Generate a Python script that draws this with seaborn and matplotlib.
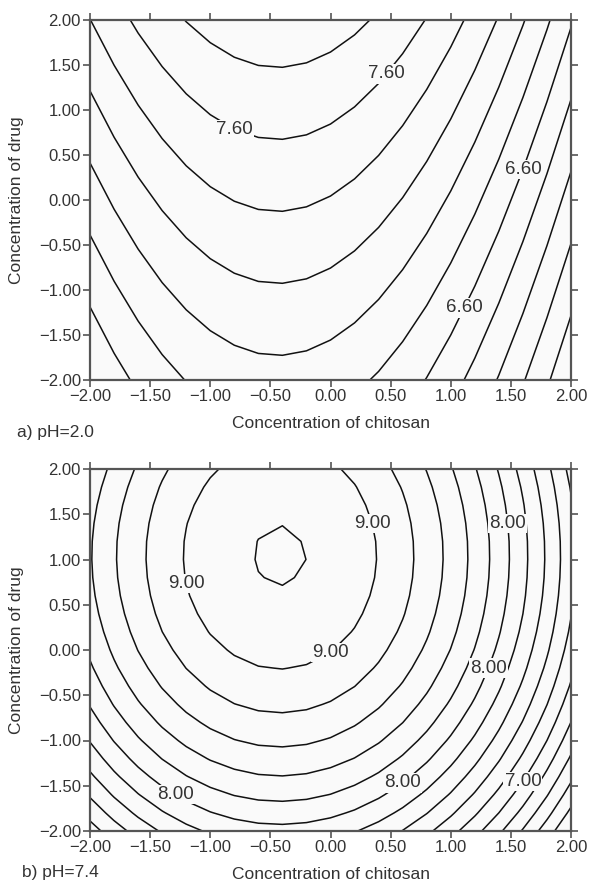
import numpy as np
import matplotlib
matplotlib.use("Agg")
import matplotlib.pyplot as plt
import seaborn as sns

# Quadratic response-surface models in coded units:
# z = b0 + b1*x + b2*y + b11*x^2 + b22*y^2 + b12*x*y
# x = concentration of chitosan, y = concentration of drug
coef_ph20 = [7.389, -0.194, 0.250, -0.220, 0.000, 0.000]
coef_ph74 = [9.008, -0.280, 0.287, -0.333, -0.138, 0.000]

# Coded design range and evaluation step of the fitted surface
coded_min, coded_max, coded_step = -2.0, 2.0, 0.2
tick_values = [-2.0, -1.5, -1.0, -0.5, 0.0, 0.5, 1.0, 1.5, 2.0]

# Contour levels (step 0.2)
levels_ph20 = [5.6, 5.8, 6.0, 6.2, 6.4, 6.6, 6.8, 7.0, 7.2, 7.4, 7.6, 7.8]
levels_ph74 = [6.0, 6.2, 6.4, 6.6, 6.8, 7.0, 7.2, 7.4, 7.6, 7.8, 8.0,
               8.2, 8.4, 8.6, 8.8, 9.0, 9.2]

# Which levels carry a label, and near which points
labels_ph20 = {7.6: [(-0.73, 0.70), (0.53, 1.49)],
               6.6: [(1.62, 0.30), (1.11, -1.31)]}
labels_ph74 = {9.0: [(-1.17, 0.69), (0.32, 1.48), (-0.05, -0.06)],
               8.0: [(1.46, 1.48), (1.31, -0.13), (0.57, -1.47), (-1.30, -1.59)],
               7.0: [(1.56, -1.51)]}

sns.set_theme(style="ticks")
plt.rcParams["font.family"] = ["Liberation Sans", "DejaVu Sans"]
plt.rcParams["axes.unicode_minus"] = True

TEXT = "#333333"
SPINE = "#555555"
FACE = "#fafafa"


def surface(coef, x, y):
    b0, b1, b2, b11, b22, b12 = coef
    return b0 + b1 * x + b2 * y + b11 * x ** 2 + b22 * y ** 2 + b12 * x * y


grid = np.arange(coded_min, coded_max + coded_step / 2, coded_step)
X, Y = np.meshgrid(grid, grid)

fig = plt.figure(figsize=(5.91, 8.84), dpi=100)
W, H = 591.0, 884.0
ax_a = fig.add_axes([90 / W, 1 - 380 / H, 481 / W, 360 / H])
ax_b = fig.add_axes([90 / W, 1 - 831 / H, 481 / W, 362 / H])


def nearest_on_level(cs, level, pt):
    """Closest vertex of the given contour level to a point."""
    idx = int(np.argmin(np.abs(np.asarray(cs.levels) - level)))
    best, best_d = pt, np.inf
    for seg in cs.allsegs[idx]:
        if len(seg) == 0:
            continue
        d = np.hypot(seg[:, 0] - pt[0], seg[:, 1] - pt[1])
        j = int(np.argmin(d))
        if d[j] < best_d:
            best_d, best = d[j], (seg[j, 0], seg[j, 1])
    return best, cs.levels[idx]


def draw_panel(ax, coef, levels, label_spec):
    Z = surface(coef, X, Y)
    ax.set_facecolor(FACE)
    cs = ax.contour(X, Y, Z, levels=levels, colors="#111111",
                    linewidths=1.1)
    for lev, pts in label_spec.items():
        for pt in pts:
            (lx, ly), val = nearest_on_level(cs, lev, pt)
            ax.text(lx, ly, f"{val:.2f}", fontsize=13.5, color=TEXT,
                    ha="center", va="center", zorder=5,
                    bbox=dict(facecolor=FACE, edgecolor="none", pad=0.8))
    ax.set_xlim(coded_min, coded_max)
    ax.set_ylim(coded_min, coded_max)
    ax.set_xticks(tick_values)
    ax.set_yticks(tick_values)
    ax.set_xticklabels([f"{v:.2f}".replace("-", "\u2212") for v in tick_values])
    ax.set_yticklabels([f"{v:.2f}".replace("-", "\u2212") for v in tick_values])
    ax.tick_params(axis="both", which="both", direction="out", length=5,
                   width=1.2, color=SPINE, labelsize=12, labelcolor=TEXT,
                   pad=1.5, top=True, right=True)
    for sp in ax.spines.values():
        sp.set_visible(True)
        sp.set_color(SPINE)
        sp.set_linewidth(1.6)
    ax.set_xlabel("Concentration of chitosan", fontsize=12.5, color=TEXT)
    ax.set_ylabel("Concentration of drug", fontsize=12.5, color=TEXT)
    ax.xaxis.set_label_coords(0.5, -0.10)
    ax.yaxis.set_label_coords(-0.137, 0.5)


draw_panel(ax_a, coef_ph20, levels_ph20, labels_ph20)
draw_panel(ax_b, coef_ph74, levels_ph74, labels_ph74)

fig.text(17 / W, 1 - 432 / H, "a) pH=2.0", fontsize=12.5, color=TEXT,
         ha="left", va="center")
fig.text(22 / W, 1 - 873 / H, "b) pH=7.4", fontsize=12.5, color=TEXT,
         ha="left", va="center")

fig.savefig("out.png", dpi=100, facecolor="white")
